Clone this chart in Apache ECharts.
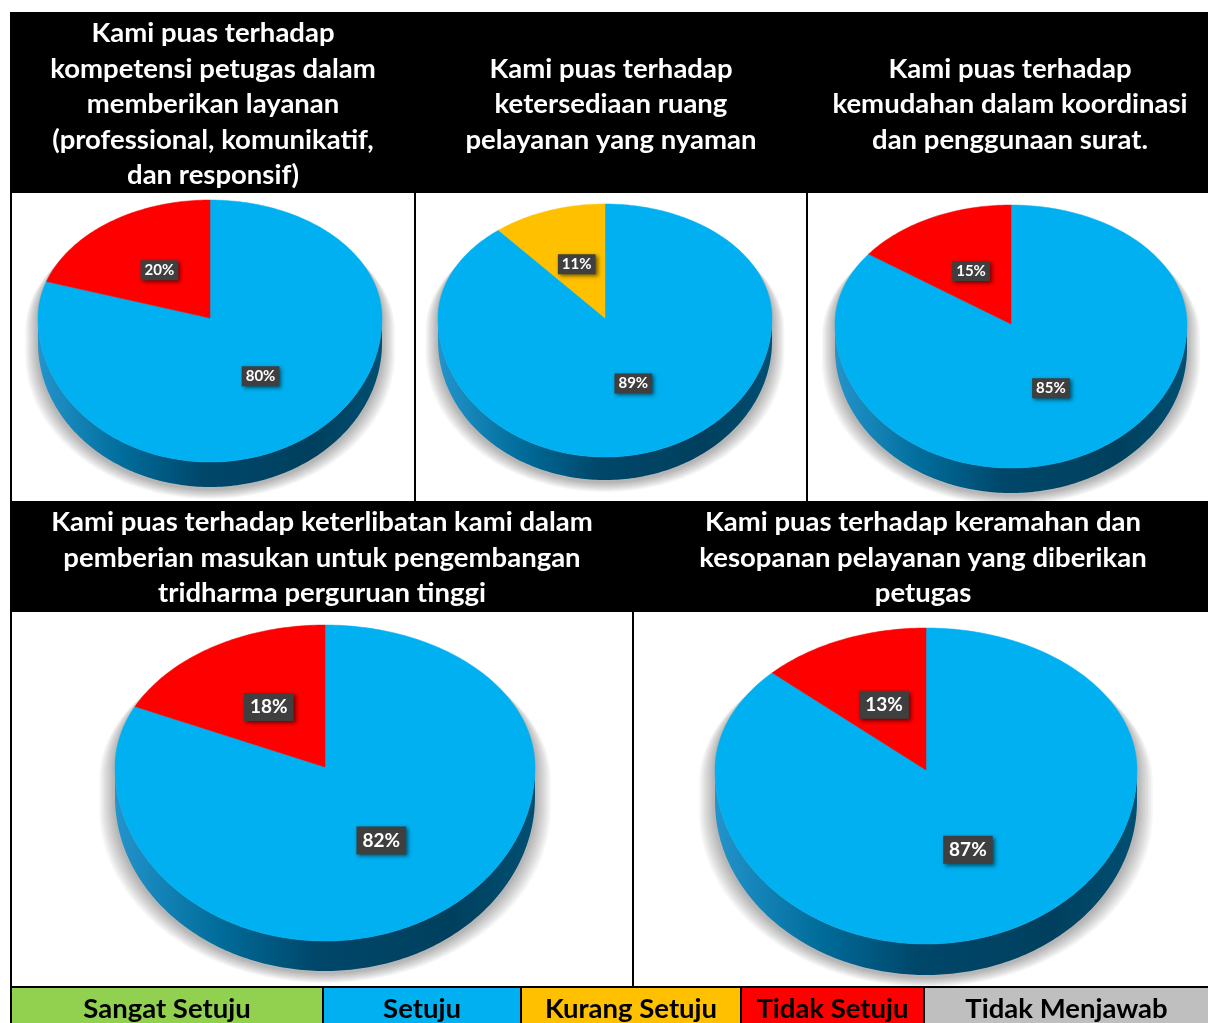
<!DOCTYPE html>
<html>
<head>
<meta charset="utf-8">
<script src="https://cdn.jsdelivr.net/npm/echarts@6/dist/echarts.min.js"></script>
<style>
  html, body { margin: 0; padding: 0; background: #fff; }
  #chart { width: 1208px; height: 1023px; }
</style>
</head>
<body>
<div id="chart"></div>
<script>
// Response categories (slice order, clockwise from 12 o'clock)
const categories = ['Sangat Setuju', 'Setuju', 'Kurang Setuju', 'Tidak Setuju', 'Tidak Menjawab'];
const categoryColors = ['#92D050', '#00B0F0', '#FFC000', '#FF0000', '#BFBFBF'];

// Percent of respondents per category, one array per statement
const kompetensi = [0, 80, 0, 20, 0];
const ruang      = [0, 89, 11, 0, 0];
const koordinasi = [0, 85, 0, 15, 0];
const masukan    = [0, 82, 0, 18, 0];
const keramahan  = [0, 87, 0, 13, 0];

// Statement titles
const titleKompetensi = 'Kami puas terhadap\nkompetensi petugas dalam\nmemberikan layanan\n(professional, komunikatif,\ndan responsif)';
const titleRuang      = 'Kami puas terhadap\nketersediaan ruang\npelayanan yang nyaman';
const titleKoordinasi = 'Kami puas terhadap\nkemudahan dalam koordinasi\ndan penggunaan surat.';
const titleMasukan    = 'Kami puas terhadap keterlibatan kami dalam\npemberian masukan untuk pengembangan\ntridharma perguruan tinggi';
const titleKeramahan  = 'Kami puas terhadap keramahan dan\nkesopanan pelayanan yang diberikan\npetugas';

const FONT = 'Lato, "Open Sans", sans-serif';

// Geometry of each tilted pie: centre, horizontal radius, far/near vertical radii, rim depth
const panels = [
  { values: kompetensi, title: titleKompetensi, tx: 213, ty: 104.5, cx: 210,  vy: 318, rx: 172, ryT: 118, ryB: 144, depth: 25, fs: 15 },
  { values: ruang,      title: titleRuang,      tx: 611, ty: 104.5, cx: 605,  vy: 318, rx: 167, ryT: 114, ryB: 139, depth: 23, fs: 15 },
  { values: koordinasi, title: titleKoordinasi, tx: 1010, ty: 104.5, cx: 1011, vy: 324, rx: 176, ryT: 119, ryB: 144, depth: 25, fs: 15 },
  { values: masukan,    title: titleMasukan,    tx: 322, ty: 558, cx: 325,  vy: 767, rx: 210, ryT: 142, ryB: 174, depth: 30, fs: 19 },
  { values: keramahan,  title: titleKeramahan,  tx: 923, ty: 558, cx: 926,  vy: 770, rx: 211, ryT: 142, ryB: 174, depth: 31, fs: 19 }
];

// Point on the tilted rim; theta measured clockwise from 12 o'clock
function rimPoint(g, theta, k, dy, sx) {
  const c = Math.cos(theta), s = Math.sin(theta);
  k = k == null ? 1 : k;
  return [g.cx + g.rx * s * k * (sx || 1), g.vy - c * (c >= 0 ? g.ryT : g.ryB) * k + (dy || 0)];
}

function arc(g, a0, a1, dy, sx) {
  const pts = [];
  const n = Math.max(2, Math.ceil(Math.abs(a1 - a0) / (Math.PI / 180)));
  for (let i = 0; i <= n; i++) pts.push(rimPoint(g, a0 + (a1 - a0) * i / n, 1, dy, sx));
  return pts;
}

const HALO_LAYERS = 10;

function makeRenderItem(g) {
  return function (params, api) {
    const idx = api.value(0);
    const val = api.value(1);
    let before = 0, total = 0;
    g.values.forEach(function (v, i) { total += v; if (i < idx) before += v; });
    const children = [];

    if (params.dataIndex === 0) {
      // soft drop shadow: stacked translucent silhouettes, growing outwards and downwards
      for (let i = HALO_LAYERS; i >= 1; i--) {
        const t = i / HALO_LAYERS;
        const sx = 1 + 0.075 * t;
        const dy = 2 + 10 * t;
        const sil = arc(g, -Math.PI / 2, Math.PI / 2, dy, sx)
          .concat(arc(g, Math.PI / 2, 3 * Math.PI / 2, g.depth + dy, sx));
        children.push({
          type: 'polygon', shape: { points: sil },
          style: { fill: 'rgba(0,0,0,0.03)' }
        });
      }
      // rim wall
      const wall = arc(g, Math.PI / 2, 3 * Math.PI / 2, 0).concat(arc(g, 3 * Math.PI / 2, Math.PI / 2, g.depth));
      children.push({
        type: 'polygon', shape: { points: wall },
        style: {
          fill: new echarts.graphic.LinearGradient(0, 0, 1, 0, [
            { offset: 0, color: '#2394cc' },
            { offset: 0.25, color: '#006c9a' },
            { offset: 0.48, color: '#00476a' },
            { offset: 0.8, color: '#00405e' },
            { offset: 1, color: '#004f72' }
          ])
        }
      });
    }

    if (val > 0) {
      const a0 = before / total * 2 * Math.PI;
      const a1 = (before + val) / total * 2 * Math.PI;
      const pts = [[g.cx, g.vy]].concat(arc(g, a0, a1, 0));
      children.push({
        type: 'polygon', shape: { points: pts },
        style: { fill: categoryColors[idx], stroke: categoryColors[idx], lineWidth: 0.5 }
      });
      const mid = (a0 + a1) / 2;
      const p = rimPoint(g, mid, 0.5, 0);
      children.push({
        type: 'text', x: p[0], y: p[1], z2: 20,
        style: {
          text: val + '%',
          fill: '#fff',
          font: 'bold ' + g.fs + 'px ' + FONT,
          align: 'center', verticalAlign: 'middle',
          textAlign: 'center', textVerticalAlign: 'middle',
          backgroundColor: '#3f3f3f',
          padding: g.fs > 16 ? [5, 6, 4, 6] : [3, 4, 2, 4],
          shadowBlur: 4, shadowColor: 'rgba(0,0,0,0.55)', shadowOffsetX: 2, shadowOffsetY: 2
        }
      });
    }
    return { type: 'group', children: children };
  };
}

const series = panels.map(function (g) {
  return {
    type: 'custom',
    coordinateSystem: 'none',
    silent: true,
    data: g.values.map(function (v, i) { return [i, v]; }),
    renderItem: makeRenderItem(g)
  };
});

// Frame: black title bands, panel rules, legend strip
const graphics = [];
function rect(x, y, w, h, fill, z) {
  graphics.push({ type: 'rect', z: z || 10, shape: { x: x, y: y, width: w, height: h }, style: { fill: fill } });
}
rect(10, 12, 1198, 181, '#000');
rect(10, 501, 1198, 111, '#000');
rect(10, 193, 2, 800, '#000');
rect(414, 193, 2, 308, '#000');
rect(806, 193, 2, 308, '#000');
rect(632, 612, 2, 376, '#000');
rect(10, 986, 1198, 40, '#000');

panels.forEach(function (g) {
  graphics.push({
    type: 'text', z: 11, x: g.tx, y: g.ty,
    style: {
      text: g.title, fill: '#fff', font: 'bold 27.5px ' + FONT, lineHeight: 35.5,
      align: 'center', verticalAlign: 'middle', textAlign: 'center', textVerticalAlign: 'middle'
    }
  });
});

const legendEdges = [12, 323, 521, 741, 924, 1209];
categories.forEach(function (name, i) {
  const x0 = legendEdges[i] + (i ? 1 : 0);
  const x1 = legendEdges[i + 1] - 1;
  rect(x0, 988, x1 - x0, 40, categoryColors[i], 11);
  graphics.push({
    type: 'text', z: 12, x: (x0 + x1) / 2, y: 1009,
    style: {
      text: name, fill: '#000', font: 'bold 27.5px ' + FONT,
      align: 'center', verticalAlign: 'middle', textAlign: 'center', textVerticalAlign: 'middle'
    }
  });
});

const chart = echarts.init(document.getElementById('chart'), null, { renderer: 'canvas' });
chart.setOption({
  animation: false,
  backgroundColor: '#fff',
  graphic: { elements: graphics },
  series: series
});
</script>
</body>
</html>
